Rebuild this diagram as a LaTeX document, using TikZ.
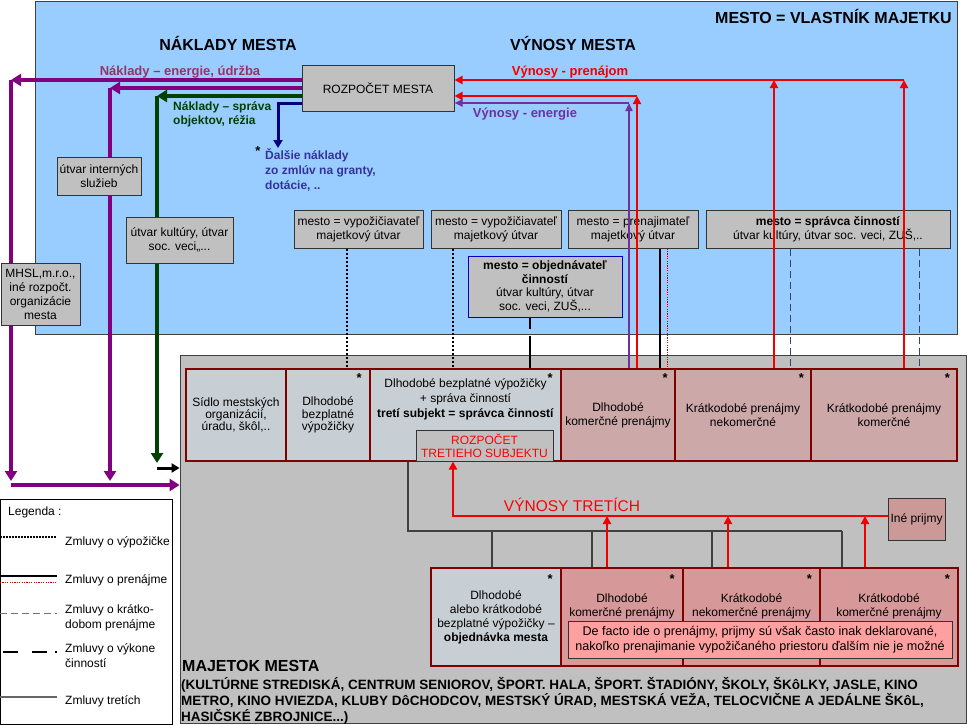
\documentclass[tikz,border=0pt]{standalone}
\usepackage{fontspec}
\setmainfont{Liberation Sans}
\usetikzlibrary{arrows.meta,positioning,calc}
\definecolor{mestocolor}{RGB}{153,204,255}
\definecolor{majetokcolor}{RGB}{192,192,192}
\definecolor{boxcolor}{RGB}{192,192,192}
\definecolor{bezplcolor}{RGB}{200,207,212}
\definecolor{prenajcolor}{RGB}{204,168,168}
\definecolor{prenajdark}{RGB}{214,152,152}
\definecolor{inecolor}{RGB}{204,153,153}
\definecolor{notecolor}{RGB}{255,160,160}
\definecolor{framecolor}{RGB}{128,0,0}
\definecolor{nakladcolor}{RGB}{128,0,128}
\definecolor{nakladtext}{RGB}{153,51,102}
\definecolor{spravacolor}{RGB}{0,64,0}
\definecolor{dalsiecolor}{RGB}{0,0,128}
\definecolor{dalsietext}{RGB}{51,51,153}
\definecolor{energcolor}{RGB}{112,48,160}
\definecolor{vynoscolor}{RGB}{240,0,0}
\definecolor{kratkocolor}{RGB}{50,70,110}
\definecolor{tretiecolor}{RGB}{64,64,64}

\begin{document}
\begin{tikzpicture}[x=1pt, y=-1pt,
    every node/.style={font=\fontsize{12}{13}\selectfont, inner sep=1pt},
    region/.style={rectangle, draw=black!75, line width=0.8pt, inner sep=0pt},
    ubox/.style={rectangle, draw=black!80, fill=boxcolor, line width=1pt, align=center},
    objbox/.style={ubox, draw=blue!75!black},
    bezpl/.style={rectangle, draw=framecolor, fill=bezplcolor, line width=2pt, align=center},
    prenaj/.style={bezpl, fill=prenajcolor},
    prenajb/.style={bezpl, fill=prenajdark},
    hviezda/.style={font=\bfseries\fontsize{13}{13}\selectfont, anchor=north east, inner sep=0pt},
    titul/.style={font=\bfseries\fontsize{16}{16}\selectfont},
    popis/.style={font=\bfseries\fontsize{13}{13}\selectfont},
    naklad/.style={nakladcolor, line width=4pt, -{Triangle[length=10pt,width=12pt]}},
    sprava/.style={spravacolor, line width=4pt, -{Triangle[length=10pt,width=12pt]}},
    dalsie/.style={dalsiecolor, line width=3pt, -{Triangle[length=8pt,width=9pt]}},
    vynos/.style={vynoscolor, line width=2.5pt, -{Triangle[length=8pt,width=8pt]}},
    energ/.style={energcolor, line width=2pt, -{Triangle[length=8pt,width=7pt]}},
    vypoz/.style={black, line width=2pt, dash pattern=on 2pt off 2pt},
    prenline/.style={black, line width=1.2pt},
    prendot/.style={red!80!black, line width=0.8pt, dash pattern=on 1.2pt off 1.2pt},
    kratko/.style={kratkocolor, line width=1pt, dash pattern=on 7pt off 4pt},
    vykon/.style={black, line width=2.5pt, dash pattern=on 11pt off 7pt on 40pt off 7pt},
    tretie/.style={tretiecolor, line width=1.3pt}]

\useasboundingbox (0,0) rectangle (969,725);

% Mesto a majetok
\node[region, fill=mestocolor, minimum width=922pt, minimum height=333pt] (mesto) at (496,167.5) {};
\node[region, fill=majetokcolor, minimum width=786pt, minimum height=368pt] (majetok) at (573,539) {};

% Nadpisy
\node[titul, anchor=east] (vlastnik) at (953,16) {MESTO = VLASTNÍK MAJETKU};
\node[titul] (naklady) at (228,43) {NÁKLADY MESTA};
\node[titul] (vynosy) at (573,43) {VÝNOSY MESTA};

% Rozpocet mesta
\node[ubox, minimum width=152pt, minimum height=45pt] (rozp) at (378,88.5) {ROZPOČET MESTA};

% Majetok - horny rad
\node[bezpl, minimum width=100pt, minimum height=92pt, font=\fontsize{12}{12}\selectfont] (sidlo) at (236,415) {Sídlo mestských\\organizácií,\\úradu, škôl,..};
\node[bezpl, minimum width=84pt, minimum height=92pt, font=\fontsize{12}{12.5}\selectfont] (dbv) at (328,415) {Dlhodobé\\bezplatné\\výpožičky};
\node[bezpl, minimum width=191pt, minimum height=92pt] (dbs) at (465.5,415) {};
\node[anchor=north, align=center, font=\fontsize{12}{15}\selectfont] (dbstext) at ([yshift=-9pt]dbs.north) {Dlhodobé bezplatné výpožičky\\+ správa činností\\\textbf{tretí subjekt = správca činností}};
\node[prenaj, minimum width=114pt, minimum height=92pt, font=\fontsize{12}{14}\selectfont] (dkp) at (618,415) {Dlhodobé\\komerčné prenájmy};
\node[prenaj, minimum width=136pt, minimum height=92pt, font=\fontsize{12}{14}\selectfont] (kpn) at (743,415) {Krátkodobé prenájmy\\nekomerčné};
\node[prenaj, minimum width=146pt, minimum height=92pt, font=\fontsize{12}{14}\selectfont] (kpk) at (884,415) {Krátkodobé prenájmy\\komerčné};
\node[ubox, minimum width=137pt, minimum height=31pt, text=red] (rts) at (484.5,445.5) {ROZPOČET\\TRETIEHO SUBJEKTU};
\node[hviezda] at ([xshift=-9pt,yshift=-5pt]dbv.north east) {*};
\node[hviezda] at ([xshift=-9pt,yshift=-5pt]dbs.north east) {*};
\node[hviezda] at ([xshift=-8pt,yshift=-5pt]dkp.north east) {*};
\node[hviezda] at ([xshift=-8pt,yshift=-5pt]kpn.north east) {*};
\node[hviezda] at ([xshift=-8pt,yshift=-5pt]kpk.north east) {*};

% Majetok - dolny rad
\node[bezpl, minimum width=130pt, minimum height=98pt, font=\fontsize{12}{14}\selectfont] (bobj) at (496,617) {Dlhodobé\\alebo krátkodobé\\bezplatné výpožičky –\\\textbf{objednávka mesta}};
\node[prenajb, minimum width=122pt, minimum height=98pt] (bdkp) at (622,617) {};
\node[prenajb, minimum width=137pt, minimum height=98pt] (bkpn) at (751.5,617) {};
\node[prenajb, minimum width=138pt, minimum height=98pt] (bkpk) at (889,617) {};
\node[anchor=north, align=center, font=\fontsize{12}{14}\selectfont] (bdkptext) at ([yshift=-25pt]bdkp.north) {Dlhodobé\\komerčné prenájmy};
\node[anchor=north, align=center, font=\fontsize{12}{14}\selectfont] (bkpntext) at ([yshift=-25pt]bkpn.north) {Krátkodobé\\nekomerčné prenájmy};
\node[anchor=north, align=center, font=\fontsize{12}{14}\selectfont] (bkpktext) at ([yshift=-25pt]bkpk.north) {Krátkodobé\\komerčné prenájmy};
\node[ubox, fill=notecolor, minimum width=384pt, minimum height=37pt, font=\fontsize{12.6}{15}\selectfont] (note) at (760,639.5) {De facto ide o prenájmy, prijmy sú však často inak deklarované,\\nakoľko prenajimanie vypožičaného priestoru ďalším nie je možné};
\node[hviezda] at ([xshift=-9pt,yshift=-7pt]bobj.north east) {*};
\node[hviezda] at ([xshift=-9pt,yshift=-7pt]bdkp.north east) {*};
\node[hviezda] at ([xshift=-9pt,yshift=-7pt]bkpn.north east) {*};
\node[hviezda] at ([xshift=-9pt,yshift=-7pt]bkpk.north east) {*};
\node[ubox, fill=inecolor, minimum width=57pt, minimum height=42pt] (ine) at (916.5,519) {Iné prijmy};
\node[text=red, font=\fontsize{15.5}{15.5}\selectfont] (vtlabel) at (572,505) {VÝNOSY TRETÍCH};

% Mesto - utvary
\node[ubox, minimum width=129pt, minimum height=38pt, font=\fontsize{12}{14}\selectfont] (vypA) at (358.5,229) {mesto = vypožičiavateľ\\majetkový útvar};
\node[ubox, minimum width=130pt, minimum height=38pt, font=\fontsize{12}{14}\selectfont] (vypB) at (496,229) {mesto = vypožičiavateľ\\majetkový útvar};
\node[ubox, minimum width=130pt, minimum height=38pt, font=\fontsize{12}{14}\selectfont] (pren) at (633,229) {mesto = prenajimateľ\\majetkový útvar};
\node[ubox, minimum width=244pt, minimum height=38pt, font=\fontsize{12}{14}\selectfont] (spr) at (828,229) {\textbf{mesto = správca činností}\\útvar kultúry, útvar soc. veci, ZUŠ,..};
\node[objbox, minimum width=154pt, minimum height=61pt, font=\fontsize{12}{13.5}\selectfont] (obj) at (545,286.5) {\textbf{mesto = objednávateľ}\\\textbf{činností}\\útvar kultúry, útvar\\soc. veci, ZUŠ,...};

% Zmluvy medzi mestom a majetkom
\coordinate (vypAx) at ([xshift=-11.5pt]vypA.south);
\coordinate (vypBx) at ([xshift=-43pt]vypB.south);
\coordinate (objx) at ([xshift=-15pt]obj.south);
\coordinate (prenx) at ([xshift=27pt]pren.south);
\coordinate (prendx) at ([xshift=34pt]pren.south);
\coordinate (sprA) at ([xshift=-38pt]spr.south);
\coordinate (sprB) at ([xshift=91pt]spr.south);
\draw[vypoz] (vypAx) -- (vypAx |- dbv.north);
\draw[vypoz] (vypBx) -- (vypBx |- dbs.north);
\draw[vykon] (objx) -- (objx |- dbs.north);
\draw[prenline] (prenx) -- (prenx |- dkp.north);
\draw[prendot] (prendx) -- (prendx |- dkp.north);
\draw[kratko] (sprA) -- (sprA |- kpn.north);
\draw[kratko] (sprB) -- (sprB |- kpk.north);

% Naklady mesta
\coordinate (enA) at (11,80);
\coordinate (enAd) at (11,481);
\coordinate (enB) at (110,88);
\coordinate (enBd) at (110,481);
\coordinate (enC) at (11,485);
\coordinate (rezia) at (157,96);
\coordinate (reziad) at (157,463);
\coordinate (reziab) at (157,468);
\coordinate (dalsi) at (278,103);
\coordinate (dalsid) at (278,148);
\draw[naklad] (rozp.west |- enA) -- (enA);
\draw[naklad] (enA) -- (enAd);
\draw[naklad] (rozp.west |- enB) -- (enB);
\draw[naklad] (enB) -- (enBd);
\draw[naklad] (enC) -- (majetok.west |- enC);
\draw[sprava] (rozp.west |- rezia) -- (rezia);
\draw[sprava] (rezia) -- (reziad);
\draw[black, line width=3pt, -{Triangle[length=8pt,width=9pt]}] (reziab) -- (majetok.west |- reziab);
\draw[dalsie] (rozp.west |- dalsi) -- (dalsi) -- (dalsid);

% Vynosy mesta
\coordinate (prA) at (904,80);
\coordinate (prB) at (774,80);
\coordinate (prC) at (637,96);
\coordinate (enR) at (629,103);
\draw[vynos] (prA) -- (rozp.east |- prA);
\draw[vynos] (kpk.north -| prA) -- (prA);
\draw[vynos] (kpn.north -| prB) -- (prB);
\draw[vynos] (dkp.north -| prC) -- (prC);
\draw[vynos] (prC) -- (rozp.east |- prC);
\draw[energ] (dkp.north -| enR) -- (enR);
\draw[energ] (enR) -- (rozp.east |- enR);

% Zmluvy tretich
\coordinate (trA) at ([xshift=-57.5pt]dbs.south);
\coordinate (trE) at (842,531);
\draw[tretie] (trA) -- (trA |- trE) -- (trE);
\foreach \x/\b in {492/bobj, 592/bdkp, 712/bkpn, 842/bkpk}
  \draw[tretie] (\x,531) -- (\b.north -| \x,531);

% Vynosy tretich
\coordinate (vtA) at (453,516);
\draw[vynos] (ine.west |- vtA) -- (vtA) -- (vtA |- rts.south);
\foreach \x/\b in {607/bdkp, 728/bkpn, 865/bkpk}
  \draw[vynos] (\b.north -| \x,516) -- (\x,516);

% Popisy tokov
\node[popis, text=nakladtext] (lenerg) at (180,72) {Náklady – energie, údržba};
\node[text=spravacolor, font=\bfseries\fontsize{12}{14.5}\selectfont, align=left, anchor=north west] (lsprava) at (172,100) {Náklady – správa\\objektov, réžia};
\node[font=\bfseries\fontsize{13}{13}\selectfont] (lhv) at (258,151) {*};
\node[text=dalsietext, font=\bfseries\fontsize{12}{15}\selectfont, align=left, anchor=north west] (ldalsie) at (264,148) {Ďalšie náklady\\zo zmlúv na granty,\\dotácie, ..};
\node[popis, text=vynoscolor] (lpren) at (570,72) {Výnosy - prenájom};
\node[popis, text=energcolor] (lenergv) at (525,114) {Výnosy - energie};

% Utvary na tokoch nakladov
\node[ubox, minimum width=79pt, minimum height=62pt, font=\fontsize{12}{14}\selectfont] (mhsl) at (40.5,294) {MHSL,m.r.o.,\\iné rozpočt.\\organizácie\\mesta};
\node[ubox, minimum width=84pt, minimum height=38pt, font=\fontsize{12}{14}\selectfont] (sluzby) at (99,176) {útvar interných\\služieb};
\node[ubox, minimum width=107pt, minimum height=46pt, font=\fontsize{12}{14}\selectfont] (kultura) at (179.5,240) {útvar kultúry, útvar\\soc. veci,,...};

% Majetok mesta
\node[anchor=west, font=\bfseries\fontsize{16}{16}\selectfont] (majnazov) at (181,666) {MAJETOK MESTA};
\node[anchor=north west, align=left, font=\bfseries\fontsize{13.5}{16}\selectfont] (zoznam) at (180,676) {(KULTÚRNE STREDISKÁ, CENTRUM SENIOROV, ŠPORT. HALA, ŠPORT. ŠTADIÓNY, ŠKOLY, ŠKôLKY, JASLE, KINO\\METRO, KINO HVIEZDA, KLUBY DôCHODCOV, MESTSKÝ ÚRAD, MESTSKÁ VEŽA, TELOCVIČNE A JEDÁLNE ŠKôL,\\HASIČSKÉ ZBROJNICE...)};

% Legenda
\node[rectangle, draw=black, fill=white, line width=1pt, minimum width=172pt, minimum height=225pt, inner sep=0pt] (legend) at (86.5,611.5) {};
\node[anchor=west] (legtitle) at (7,512) {Legenda :};
\draw[black, line width=1.5pt, dash pattern=on 1.5pt off 1.5pt] (0,537) -- (57,537);
\node[anchor=west] (legvyp) at (64,542) {Zmluvy o výpožičke};
\draw[prenline] (0,576) -- (57,576);
\draw[prendot] (0,582) -- (57,582);
\node[anchor=west] (legpren) at (64,580) {Zmluvy o prenájme};
\draw[black!55, line width=1pt, dash pattern=on 7pt off 4pt] (0,613) -- (57,613);
\node[anchor=west, align=left, font=\fontsize{12}{15}\selectfont] (legkrat) at (64,618) {Zmluvy o krátko-\\dobom prenájme};
\draw[black, line width=2.5pt, dash pattern=on 15pt off 14pt on 15pt off 8pt on 2pt off 9pt] (3,652) -- (59,652);
\node[anchor=west, align=left, font=\fontsize{12}{15}\selectfont] (legvyk) at (64,656) {Zmluvy o výkone\\činností};
\draw[black!60, line width=1.2pt] (0,697) -- (57,697);
\node[anchor=west] (legtre) at (64,701) {Zmluvy tretích};

\end{tikzpicture}
\end{document}
